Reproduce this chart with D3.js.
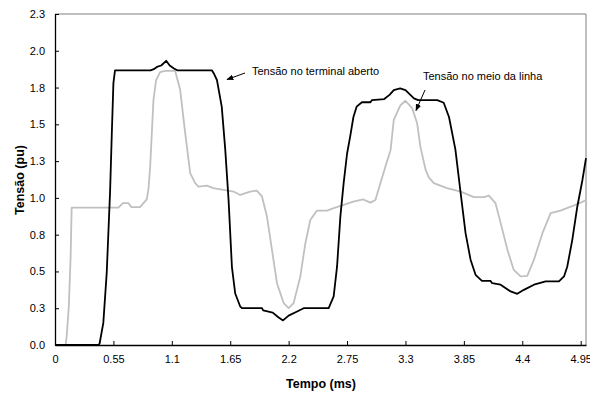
<!DOCTYPE html>
<html>
<head>
<meta charset="utf-8">
<script src="https://cdn.jsdelivr.net/npm/d3@7"></script>
<style>
  body { margin: 0; background: #fff; }
  svg text { font-family: Arial, "Liberation Sans", sans-serif; }
</style>
</head>
<body>
<div id="chart"></div>
<script>
// time (ms) values for the open-terminal voltage
const openTime = [0, 0.41, 0.42, 0.455, 0.487, 0.519, 0.535, 0.55, 0.565, 0.90, 0.93, 0.96, 1.0, 1.047, 1.08, 1.12, 1.15,
  1.477, 1.50, 1.525, 1.57, 1.603, 1.634, 1.666, 1.697, 1.744, 1.76, 1.949, 1.96, 2.05, 2.10, 2.147, 2.20, 2.28, 2.341,
  2.577, 2.624, 2.656, 2.687, 2.718, 2.75, 2.78, 2.81, 2.84, 2.89, 2.97, 2.985, 3.10, 3.15, 3.19, 3.25, 3.30, 3.38, 3.42,
  3.60, 3.66, 3.71, 3.77, 3.82, 3.866, 3.913, 3.96, 4.02, 4.10, 4.117, 4.196, 4.29, 4.353, 4.415, 4.51, 4.62, 4.745,
  4.793, 4.824, 4.871, 4.918, 4.966, 5.0];
const openVolt = [0, 0, 0.01, 0.15, 0.49, 1.05, 1.44, 1.78, 1.867, 1.867, 1.875, 1.89, 1.90, 1.932, 1.90, 1.88, 1.867,
  1.867, 1.84, 1.80, 1.62, 1.33, 0.99, 0.53, 0.35, 0.262, 0.251, 0.251, 0.235, 0.22, 0.19, 0.167, 0.20, 0.228, 0.25,
  0.25, 0.33, 0.534, 0.873, 1.10, 1.30, 1.42, 1.55, 1.62, 1.65, 1.65, 1.665, 1.672, 1.70, 1.733, 1.745, 1.733, 1.677, 1.665,
  1.665, 1.647, 1.55, 1.33, 1.03, 0.76, 0.58, 0.477, 0.436, 0.436, 0.42, 0.41, 0.364, 0.348, 0.375, 0.41, 0.432, 0.432,
  0.466, 0.534, 0.715, 0.94, 1.12, 1.27];

// time (ms) values for the mid-line voltage
const midTime = [0, 0.10, 0.11, 0.13, 0.147, 0.157, 0.597, 0.64, 0.69, 0.72, 0.80, 0.833, 0.864, 0.88, 0.896, 0.927, 0.952,
  0.99, 1.037, 1.131, 1.179, 1.226, 1.273, 1.32, 1.351, 1.43, 1.49, 1.587, 1.681, 1.744, 1.838, 1.90, 1.949, 1.996,
  2.043, 2.09, 2.153, 2.20, 2.247, 2.31, 2.357, 2.404, 2.467, 2.562, 2.624, 2.718, 2.81, 2.90, 2.97, 3.017, 3.064, 3.11,
  3.16, 3.19, 3.253, 3.30, 3.363, 3.41, 3.44, 3.49, 3.52, 3.567, 3.69, 3.82, 3.944, 4.04, 4.085, 4.148, 4.196, 4.26, 4.32,
  4.384, 4.447, 4.51, 4.59, 4.667, 4.76, 4.856, 4.95, 5.0];
const midVolt = [0, 0, 0.06, 0.26, 0.60, 0.934, 0.934, 0.964, 0.964, 0.937, 0.937, 0.964, 0.99, 1.06, 1.21, 1.665, 1.80,
  1.855, 1.864, 1.864, 1.733, 1.44, 1.168, 1.10, 1.077, 1.083, 1.066, 1.054, 1.043, 1.02, 1.043, 1.05, 1.01, 0.873,
  0.647, 0.42, 0.285, 0.251, 0.285, 0.466, 0.69, 0.85, 0.914, 0.914, 0.93, 0.952, 0.975, 0.99, 0.968, 0.986, 1.10, 1.21,
  1.326, 1.53, 1.63, 1.66, 1.61, 1.507, 1.35, 1.19, 1.14, 1.10, 1.066, 1.043, 1.005, 1.005, 1.016, 0.964, 0.83, 0.647, 0.51,
  0.466, 0.47, 0.58, 0.76, 0.896, 0.914, 0.94, 0.968, 0.986];

const xTicks = [0, 0.55, 1.1, 1.65, 2.2, 2.75, 3.3, 3.85, 4.4, 4.95];
const xTickLabels = ["0", "0.55", "1.1", "1.65", "2.2", "2.75", "3.3", "3.85", "4.4", "4.95"];
const yTicks = [0, 0.25, 0.5, 0.75, 1.0, 1.25, 1.5, 1.75, 2.0, 2.25];
const yTickLabels = ["0.0", "0.3", "0.5", "0.8", "1.0", "1.3", "1.5", "1.8", "2.0", "2.3"];

const width = 590, height = 394;
const margin = { top: 14, right: 4, bottom: 49, left: 55 };
const innerW = width - margin.left - margin.right;
const innerH = height - margin.top - margin.bottom;

const svg = d3.select('#chart').append('svg')
  .attr('width', width)
  .attr('height', height);

const g = svg.append('g')
  .attr('transform', `translate(${margin.left},${margin.top})`);

const x = d3.scaleLinear().domain([0, 5]).range([0, innerW]);
const y = d3.scaleLinear().domain([0, 2.25]).range([innerH, 0]);

// plot frame: grey top / right edges
g.append('path')
  .attr('d', `M0,0H${innerW}V${innerH}`)
  .attr('fill', 'none')
  .attr('stroke', '#808080')
  .attr('stroke-width', 1);

const xAxis = d3.axisBottom(x)
  .tickValues(xTicks)
  .tickFormat((d, i) => xTickLabels[i])
  .tickSizeInner(-4)
  .tickSizeOuter(0)
  .tickPadding(10);

const yAxis = d3.axisLeft(y)
  .tickValues(yTicks)
  .tickFormat((d, i) => yTickLabels[i])
  .tickSizeInner(-4)
  .tickSizeOuter(0)
  .tickPadding(10);

const gx = g.append('g')
  .attr('transform', `translate(0,${innerH})`)
  .call(xAxis);
const gy = g.append('g').call(yAxis);

[gx, gy].forEach(a => {
  a.select('.domain').attr('stroke', '#000').attr('stroke-width', 1.3);
  a.selectAll('.tick line').attr('stroke', '#000');
  a.selectAll('.tick text').attr('font-size', 11).attr('fill', '#000')
    .style('font-family', 'Arial, "Liberation Sans", sans-serif');
});

const line = d3.line()
  .x(d => x(d[0]))
  .y(d => y(d[1]));

g.append('path')
  .datum(d3.zip(midTime, midVolt))
  .attr('fill', 'none')
  .attr('stroke', '#c0c0c0')
  .attr('stroke-width', 1.8)
  .attr('stroke-linejoin', 'round')
  .attr('d', line);

g.append('path')
  .datum(d3.zip(openTime, openVolt))
  .attr('fill', 'none')
  .attr('stroke', '#000')
  .attr('stroke-width', 1.8)
  .attr('stroke-linejoin', 'round')
  .attr('d', line);

// annotations
svg.append('defs').append('marker')
  .attr('id', 'arrow')
  .attr('viewBox', '0 0 10 10')
  .attr('refX', 9).attr('refY', 5)
  .attr('markerWidth', 7).attr('markerHeight', 7)
  .attr('orient', 'auto')
  .append('path')
  .attr('d', 'M0,1L10,5L0,9Z')
  .attr('fill', '#000');

svg.append('text')
  .attr('x', 252).attr('y', 75)
  .attr('font-size', 11)
  .text('Tensão no terminal aberto');
svg.append('line')
  .attr('x1', 245).attr('y1', 73)
  .attr('x2', 227).attr('y2', 79.5)
  .attr('stroke', '#000').attr('stroke-width', 1)
  .attr('marker-end', 'url(#arrow)');

svg.append('text')
  .attr('x', 423).attr('y', 80)
  .attr('font-size', 11)
  .text('Tensão no meio da linha');
svg.append('line')
  .attr('x1', 425).attr('y1', 90)
  .attr('x2', 416).attr('y2', 110.5)
  .attr('stroke', '#000').attr('stroke-width', 1)
  .attr('marker-end', 'url(#arrow)');

// axis titles
svg.append('text')
  .attr('x', 321)
  .attr('y', 388)
  .attr('text-anchor', 'middle')
  .attr('font-size', 12.5)
  .attr('font-weight', 'bold')
  .text('Tempo (ms)');

svg.append('text')
  .attr('transform', 'translate(24,180) rotate(-90)')
  .attr('text-anchor', 'middle')
  .attr('font-size', 12.5)
  .attr('font-weight', 'bold')
  .text('Tensão (pu)');
</script>
</body>
</html>
